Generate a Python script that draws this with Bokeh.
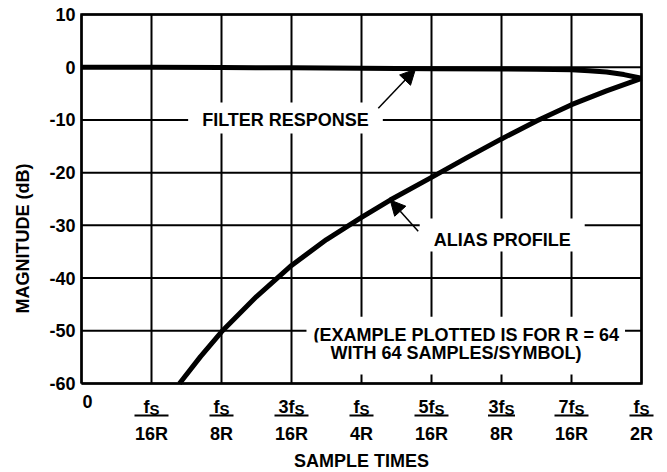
from bokeh.plotting import figure
from bokeh.models import ColumnDataSource, Label, Arrow, NormalHead, FixedTicker, Range1d
from bokeh.core.properties import value
from bokeh.embed import file_html
from bokeh.resources import INLINE

# ---------------- data (x in units of fs/(16R), y in dB) ----------------
filter_x = [0, 1, 2, 3, 4, 5, 6, 6.5, 7, 7.25, 7.5, 7.75, 8]
filter_db = [0, -0.03, -0.06, -0.1, -0.2, -0.28, -0.35, -0.4, -0.5, -0.65, -0.9, -1.4, -2.1]

alias_x = [1.4, 1.7, 2.0, 2.5, 3.0, 3.5, 4.0, 4.41, 5.0, 5.5, 6.0, 6.5, 7.0, 7.5, 8.0]
alias_db = [-60, -54.9, -50.2, -43.5, -37.6, -32.7, -28.5, -25.2, -20.9, -17.2, -13.6,
            -10.2, -7.1, -4.5, -2.1]

y_ticks = [-60, -50, -40, -30, -20, -10, 0, 10]
y_tick_labels = ["-60", "-50", "-40", "-30", "-20", "-10", "0", "10"]
x_ticks = [1, 2, 3, 4, 5, 6, 7, 8]
x_num_prefix = ["", "", "3", "", "5", "3", "7", ""]
x_num_symbol = ["f"] * 8
x_num_sub = ["S"] * 8
x_den = ["16R", "8R", "16R", "4R", "16R", "8R", "16R", "2R"]
x_zero_tick = [0]
x_zero_label = ["0"]

X_MIN, X_MAX, Y_MIN, Y_MAX = 0, 8, -60, 10

# ---------------- layout (canvas pixels) ----------------
W, H = 667, 472
FL, FT = 78, 4                # frame left / top border
X0_PX, XN_PX = 81, 641        # where X_MIN / X_MAX fall
YT_PX, YB_PX = 14, 383        # where Y_MAX / Y_MIN fall
PX_PER_X = (XN_PX - X0_PX) / (X_MAX - X_MIN)
PX_PER_DB = (YB_PX - YT_PX) / (Y_MAX - Y_MIN)
FONT = "Liberation Sans"
FS = 18
NUM_FS = 18
SUB_FS = 15
DEN_FS = 18


def below(px):
    """data y for a point px pixels below the bottom axis"""
    return Y_MIN - px / PX_PER_DB


CW = {"0": 556, "1": 556, "2": 556, "3": 556, "4": 556, "5": 556, "6": 556, "7": 556,
      "8": 556, "9": 556, "f": 333, "R": 722, "S": 667}


def tw(s, size):
    return sum(CW[c] for c in s) * size / 1000.0


p = figure(width=W, height=H,
           x_range=Range1d(X_MIN - (X0_PX - FL) / PX_PER_X, X_MAX + (W - XN_PX) / PX_PER_X),
           y_range=Range1d(below(H - YB_PX), Y_MAX + (YT_PX - FT) / PX_PER_DB),
           output_backend="svg", toolbar_location=None, title=None, x_axis_location=None,
           min_border_left=FL, min_border_right=0, min_border_top=FT, min_border_bottom=0)
p.background_fill_color = "white"
p.border_fill_color = "white"
p.outline_line_color = None
p.xgrid.visible = False
p.ygrid.visible = False

# y axis (labels only; frame drawn below)
p.yaxis.bounds = (Y_MIN, Y_MAX)
p.yaxis.ticker = FixedTicker(ticks=y_ticks)
p.yaxis.major_label_overrides = {t: l for t, l in zip(y_ticks, y_tick_labels)}
p.yaxis.major_label_text_font = FONT
p.yaxis.major_label_text_font_style = "bold"
p.yaxis.major_label_text_font_size = f"{FS}px"
p.yaxis.major_label_text_color = "black"
p.yaxis.major_label_standoff = X0_PX - FL
p.yaxis.major_tick_out = 0
p.yaxis.major_tick_in = 0
p.yaxis.minor_tick_line_color = None
p.yaxis.axis_line_color = None
p.yaxis.axis_label = "MAGNITUDE (dB)"
p.yaxis.axis_label_text_font = FONT
p.yaxis.axis_label_text_font_style = "bold"
p.yaxis.axis_label_text_font_size = f"{FS}px"
p.yaxis.axis_label_text_color = "black"
p.yaxis.axis_label_standoff = 13

# grid lines and frame, from the tick arrays
grid_x = [X_MIN] + x_ticks
p.segment(x0=grid_x, y0=[Y_MIN] * len(grid_x), x1=grid_x, y1=[Y_MAX] * len(grid_x),
          line_width=2, line_color="black")
p.segment(x0=[X_MIN] * len(y_ticks), y0=y_ticks, x1=[X_MAX] * len(y_ticks), y1=y_ticks,
          line_width=2, line_color="black")
p.line([X_MIN, X_MIN, X_MAX, X_MAX, X_MIN], [Y_MIN, Y_MAX, Y_MAX, Y_MIN, Y_MIN],
       line_width=2.5, line_color="black", line_join="miter")

# curves
p.line(filter_x, filter_db, line_width=5, line_color="black", line_join="round")
p.line(alias_x, alias_db, line_width=5, line_color="black", line_join="round")

# ---------------- annotations (padded box is anchored at x, y) ----------------
lab = dict(text_font=FONT, text_font_style="bold", text_font_size=f"{FS}px",
           text_color="black", background_fill_color="white", background_fill_alpha=1)

p.add_layout(Label(x=2.914, y=-9.64, text="FILTER RESPONSE", text_align="center",
                   text_baseline="middle",
                   padding=dict(left=14, right=14, top=7, bottom=4), **lab))
p.add_layout(Label(x=6.01, y=-31.83, text="ALIAS PROFILE", text_align="center",
                   text_baseline="middle",
                   padding=dict(left=14, right=14, top=11, bottom=2), **lab))
p.add_layout(Label(x=3.214, y=-50.0, text="(EXAMPLE PLOTTED IS FOR R = 64",
                   text_align="left", text_baseline="middle",
                   padding=dict(left=7, right=6, top=8, bottom=0), **lab))
p.add_layout(Label(x=3.214, y=-55.26, text="WITH 64 SAMPLES/SYMBOL)",
                   text_align="left", text_baseline="middle",
                   padding=dict(left=24, right=10, top=0, bottom=12), **lab))

head = dict(size=15, fill_color="black", line_color="black")
p.add_layout(Arrow(end=NormalHead(**head), x_start=4.24, y_start=-7.8, x_end=4.77, y_end=-0.38,
                   line_width=1.5, line_color="black"))
p.add_layout(Arrow(end=NormalHead(**head), x_start=4.81, y_start=-31.1,
                   x_end=alias_x[7], y_end=alias_db[7], line_width=1.5, line_color="black"))

# ---------------- x tick labels (fractions) ----------------
num_main = [pr + s for pr, s in zip(x_num_prefix, x_num_symbol)]
off = [(tw(m, NUM_FS) - tw(s, SUB_FS)) / 2 for m, s in zip(num_main, x_num_sub)]
bar_half = [(max(tw(m, NUM_FS) + tw(s, SUB_FS), tw(d, DEN_FS)) + 1) / 2 / PX_PER_X
            for m, s, d in zip(num_main, x_num_sub, x_den)]

n = len(x_ticks)
tick_src = ColumnDataSource(dict(
    x=x_ticks, main=num_main, sub=x_num_sub, den=x_den, off=off,
    y_main=[below(23)] * n, y_sub=[below(26)] * n, y_den=[below(50)] * n,
    bar_y=[below(32)] * n,
    lo=[x - h for x, h in zip(x_ticks, bar_half)],
    hi=[x + h for x, h in zip(x_ticks, bar_half)],
))

txt = dict(text_font=value(FONT), text_font_style="bold", text_color="black",
           text_baseline="alphabetic")
p.text(x="x", y="y_main", text="main", x_offset="off", text_align="right",
       text_font_size=value(f"{NUM_FS}px"), source=tick_src, **txt)
p.text(x="x", y="y_sub", text="sub", x_offset="off", text_align="left",
       text_font_size=value(f"{SUB_FS}px"), source=tick_src, **txt)
p.text(x="x", y="y_den", text="den", text_align="center",
       text_font_size=value(f"{DEN_FS}px"), source=tick_src, **txt)
p.segment(x0="lo", y0="bar_y", x1="hi", y1="bar_y", line_width=2, line_color="black",
          source=tick_src)
p.text(x=x_zero_tick, y=[below(18)], text=x_zero_label, x_offset=1, text_align="left",
       text_font_size=value(f"{NUM_FS}px"), **txt)
p.text(x=[(X_MIN + X_MAX) / 2], y=[below(77)], text=["SAMPLE TIMES"], text_align="center",
       text_font_size=value(f"{FS}px"), **txt)

open("out.html", "w").write(file_html(p, INLINE))
